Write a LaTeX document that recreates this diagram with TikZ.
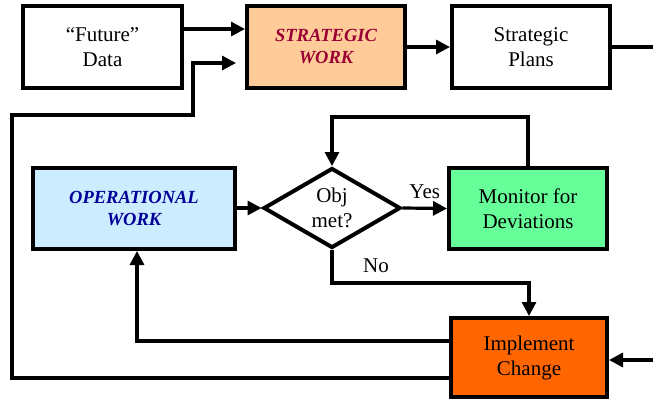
\documentclass[tikz,border=0pt]{standalone}
\usepackage{fontspec}
\setmainfont{Liberation Serif}
\usetikzlibrary{shapes.geometric,arrows.meta}
\definecolor{peach}{HTML}{FFCC99}
\definecolor{lblue}{HTML}{CCECFF}
\definecolor{lgreen}{HTML}{66FF99}
\definecolor{orng}{HTML}{FF6600}
\definecolor{dred}{HTML}{990033}
\definecolor{dblue}{HTML}{000099}
\begin{document}
\begin{tikzpicture}[x=1pt,y=-1pt,
  txt/.style={font=\fontsize{21}{25}\selectfont},
  box/.style={draw=black,line width=4pt,rectangle,inner sep=0pt,align=center,txt},
  bold/.style={font=\fontsize{18.5}{22}\selectfont\bfseries\itshape},
  conn/.style={line width=3.2pt,line join=miter},
  arr/.style={conn,-{Triangle[length=14pt,width=14pt]}}]
\useasboundingbox (0,0) rectangle (653,399);
\node[box,minimum width=159pt,minimum height=82pt] (future) at (102.5,47) {``Future''\\Data};
\node[box,fill=peach,minimum width=158pt,minimum height=82pt,bold,text=dred] (strat) at (326,47) {STRATEGIC\\WORK};
\node[box,minimum width=158pt,minimum height=82pt] (plans) at (531,47) {Strategic\\Plans};
\node[box,fill=lblue,minimum width=202pt,minimum height=81pt,bold,text=dblue] (op) at (134,208.5) {OPERATIONAL\\WORK};
\node[draw=black,line width=4pt,diamond,aspect=1.7,inner sep=0pt,minimum width=137pt,minimum height=80pt,align=center,txt] (dia) at (332,208) {Obj\\met?};
\node[box,fill=lgreen,minimum width=158pt,minimum height=81pt] (mon) at (528,208.5) {Monitor for\\Deviations};
\node[box,fill=orng,minimum width=156pt,minimum height=79pt] (impl) at (529,357.5) {Implement\\Change};
\coordinate (pout) at (653,47);
\coordinate (iin) at (653,360);
% connectors
\draw[arr] ([yshift=18pt]future.east) -- ([yshift=18pt]strat.west);
\draw[arr] (strat.east) -- (plans.west);
\draw[conn] (plans.east) -- (pout);
\draw[arr] (op.east |- dia.west) -- (dia.west);
\draw[arr] (dia.east) -- node[above,yshift=5pt,txt] {Yes} (mon.west);
\draw[arr] (mon.north) -- ++(0,-49) -| (dia.north);
\draw[arr] (dia.south) -- (332,283) -| (impl.north);
\node[txt] (nolab) at (376,266) {No};
\draw[arr] ([yshift=16.5pt]impl.west) -| ([xshift=3pt]op.south);
\draw[arr] (iin) -- (impl.east |- iin);
\draw[arr,shorten >=9pt] ([yshift=-20.5pt]impl.west) -- (12,378) -- (12,115) -- (193,115) -- (193,63) -- (strat.west |- 0,63);
\end{tikzpicture}
\end{document}
